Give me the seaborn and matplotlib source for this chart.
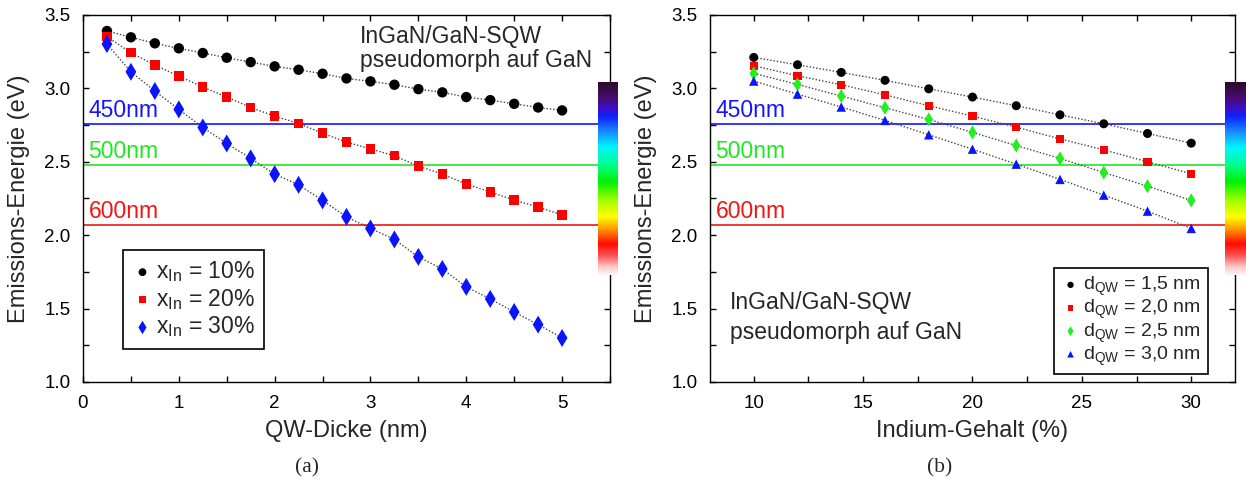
import matplotlib
matplotlib.use("Agg")
import numpy as np
import matplotlib.pyplot as plt
from matplotlib.colors import LinearSegmentedColormap
from matplotlib.ticker import MultipleLocator, FormatStrFormatter
import seaborn as sns

# ---------------- data ----------------
# (a) emission energy vs. quantum-well thickness for three indium contents
thickness_nm = [0.25, 0.50, 0.75, 1.00, 1.25, 1.50, 1.75, 2.00, 2.25, 2.50,
                2.75, 3.00, 3.25, 3.50, 3.75, 4.00, 4.25, 4.50, 4.75, 5.00]
energy_x10 = [3.391, 3.348, 3.307, 3.273, 3.241, 3.209, 3.179, 3.150, 3.127, 3.100,
              3.068, 3.048, 3.025, 2.995, 2.973, 2.941, 2.920, 2.895, 2.870, 2.850]
energy_x20 = [3.352, 3.243, 3.159, 3.084, 3.009, 2.941, 2.870, 2.811, 2.761, 2.695,
              2.634, 2.588, 2.541, 2.471, 2.416, 2.348, 2.294, 2.239, 2.191, 2.138]
energy_x30 = [3.302, 3.113, 2.982, 2.857, 2.734, 2.625, 2.523, 2.416, 2.343, 2.237,
              2.125, 2.046, 1.971, 1.852, 1.770, 1.648, 1.566, 1.477, 1.391, 1.300]
labels_a = [r"x$_\mathregular{In}$ = 10%", r"x$_\mathregular{In}$ = 20%",
            r"x$_\mathregular{In}$ = 30%"]

# (b) emission energy vs. indium content for four well thicknesses
indium_pct = [10, 12, 14, 16, 18, 20, 22, 24, 26, 28, 30]
energy_d15 = [3.211, 3.161, 3.109, 3.055, 2.997, 2.941, 2.882, 2.820, 2.759, 2.693, 2.627]
energy_d20 = [3.154, 3.086, 3.025, 2.956, 2.882, 2.811, 2.736, 2.656, 2.581, 2.500, 2.418]
energy_d25 = [3.102, 3.027, 2.948, 2.868, 2.789, 2.700, 2.611, 2.523, 2.427, 2.334, 2.237]
energy_d30 = [3.050, 2.961, 2.873, 2.782, 2.684, 2.586, 2.484, 2.380, 2.273, 2.164, 2.046]
labels_b = [r"d$_\mathregular{QW}$ = 1,5 nm", r"d$_\mathregular{QW}$ = 2,0 nm",
            r"d$_\mathregular{QW}$ = 2,5 nm", r"d$_\mathregular{QW}$ = 3,0 nm"]

# reference wavelengths drawn as horizontal lines
wavelengths_nm = [450, 500, 600]
wavelength_colors = ["#1414ff", "#22e622", "#f01414"]

structure_text = "InGaN/GaN-SQW\npseudomorph auf GaN"

# ---------------- style ----------------
sns.set_style("ticks")
plt.rcParams["font.family"] = ["Liberation Sans", "DejaVu Sans"]
plt.rcParams["mathtext.fontset"] = "custom"
plt.rcParams["mathtext.rm"] = "Liberation Sans"
plt.rcParams["axes.linewidth"] = 1.0

W, H = 1246, 486
fig = plt.figure(figsize=(W / 100, H / 100), dpi=100)
fig.patch.set_facecolor("white")


def fig_rect(x0, y0, x1, y1):
    """pixel box (left, top, right, bottom) -> figure fraction rect"""
    return [x0 / W, 1 - y1 / H, (x1 - x0) / W, (y1 - y0) / H]


ax_a = fig.add_axes(fig_rect(83, 15, 610, 382))
ax_b = fig.add_axes(fig_rect(710, 15, 1235, 382))

spectrum = LinearSegmentedColormap.from_list("spectrum", [
    (0.00, "#2a0a28"), (0.08, "#4a0a6a"), (0.14, "#3a10c8"), (0.18, "#1020ff"),
    (0.26, "#1a88ff"), (0.34, "#00f4ff"), (0.43, "#00ff90"), (0.52, "#00f000"),
    (0.62, "#a8ff00"), (0.70, "#ffff00"), (0.76, "#ffa000"), (0.84, "#ff0a00"),
    (0.90, "#ff5050"), (0.96, "#ffc8c8"), (1.00, "#fff4f4")])

line_kw = dict(color="#444444", linestyle=(0, (1, 1.4)), linewidth=1.0)


def style_axes(ax, xlim, xmajor, xminor):
    ax.set_xlim(*xlim)
    ax.set_ylim(1.0, 3.5)
    ax.xaxis.set_major_locator(MultipleLocator(xmajor))
    ax.xaxis.set_minor_locator(MultipleLocator(xminor))
    ax.yaxis.set_major_locator(MultipleLocator(0.5))
    ax.yaxis.set_minor_locator(MultipleLocator(0.25))
    ax.yaxis.set_major_formatter(FormatStrFormatter("%.1f"))
    ax.tick_params(which="both", direction="in", top=True, right=True,
                   length=4.5, width=1.0, colors="black", labelsize=13.5)
    ax.tick_params(axis="x", which="major", pad=9)
    ax.tick_params(axis="y", which="major", pad=9)
    for s in ax.spines.values():
        s.set_visible(True)
        s.set_color("black")
    ax.set_ylabel("Emissions-Energie (eV)", fontsize=17, labelpad=10)
    # wavelength reference lines
    for wl, col in zip(wavelengths_nm, wavelength_colors):
        e = 1239.84 / wl
        ax.axhline(e, color=col, linewidth=1.2, zorder=1)
        ax.annotate(f"{wl}nm", xy=(0, e), xycoords=("axes fraction", "data"),
                    xytext=(4, 1.5), textcoords="offset points",
                    ha="left", va="bottom", color=col, fontsize=16.5)


def add_spectrum_bar(x0, x1):
    cax = fig.add_axes(fig_rect(x0, 82, x1, 275), zorder=5)
    grad = np.linspace(0, 1, 256).reshape(-1, 1)
    cax.imshow(grad, aspect="auto", cmap=spectrum, origin="upper")
    cax.set_axis_off()


def frame_legend(leg):
    leg.get_frame().set_edgecolor("black")
    leg.get_frame().set_linewidth(1.2)
    leg.get_frame().set_alpha(1.0)


# ---------------- panel (a) ----------------
style_axes(ax_a, (0, 5.5), 1, 0.5)
series_a = [(energy_x10, "o", "#000000", 56),
            (energy_x20, "s", "#ff0000", 46),
            (energy_x30, "d", "#0a14ff", 84)]
for (vals, mk, col, size), lab in zip(series_a, labels_a):
    sns.lineplot(x=thickness_nm, y=vals, ax=ax_a, zorder=2, **line_kw)
    sns.scatterplot(x=thickness_nm, y=vals, ax=ax_a, marker=mk, color=col, s=size,
                    edgecolor="none", linewidth=0, zorder=3, label=lab)
ax_a.set_xlabel("QW-Dicke (nm)", fontsize=17, labelpad=6)
ax_a.text(0.525, 0.972, structure_text, transform=ax_a.transAxes, ha="left", va="top",
          multialignment="left", fontsize=16.5, linespacing=1.02)
leg_a = ax_a.legend(loc="upper left", bbox_to_anchor=(40 / 527, 1 - 235 / 367),
                    frameon=True, fancybox=False, fontsize=16.5, handletextpad=0.15,
                    handlelength=0.9, labelspacing=0.12, borderpad=0.4,
                    borderaxespad=0, markerscale=0.75)
frame_legend(leg_a)
add_spectrum_bar(598, 618)

# ---------------- panel (b) ----------------
style_axes(ax_b, (8, 32), 5, 2.5)
series_b = [(energy_d15, "o", "#000000", 42),
            (energy_d20, "s", "#ff0000", 36),
            (energy_d25, "d", "#22ee22", 52),
            (energy_d30, "^", "#0a14ff", 46)]
for (vals, mk, col, size), lab in zip(series_b, labels_b):
    sns.lineplot(x=indium_pct, y=vals, ax=ax_b, zorder=2, **line_kw)
    sns.scatterplot(x=indium_pct, y=vals, ax=ax_b, marker=mk, color=col, s=size,
                    edgecolor="none", linewidth=0, zorder=3, label=lab)
ax_b.set_xlabel("Indium-Gehalt (%)", fontsize=17, labelpad=6)
ax_b.text(20 / 525, 0.248, structure_text, transform=ax_b.transAxes, ha="left", va="top",
          multialignment="left", fontsize=16.5, linespacing=1.4)
leg_b = ax_b.legend(loc="upper left", bbox_to_anchor=(344 / 525, 1 - 253 / 367),
                    frameon=True, fancybox=False, fontsize=14, handletextpad=0.15,
                    handlelength=1.0, labelspacing=-0.02, borderpad=0.35,
                    borderaxespad=0, markerscale=0.7)
frame_legend(leg_b)
add_spectrum_bar(1225, 1246)

# sub-figure captions
fig.text(307 / W, 1 - 468 / H, "(a)", ha="center", va="center", fontsize=15.5,
         family="Liberation Serif")
fig.text(940 / W, 1 - 468 / H, "(b)", ha="center", va="center", fontsize=15.5,
         family="Liberation Serif")

fig.savefig("out.png", dpi=100, facecolor="white")
